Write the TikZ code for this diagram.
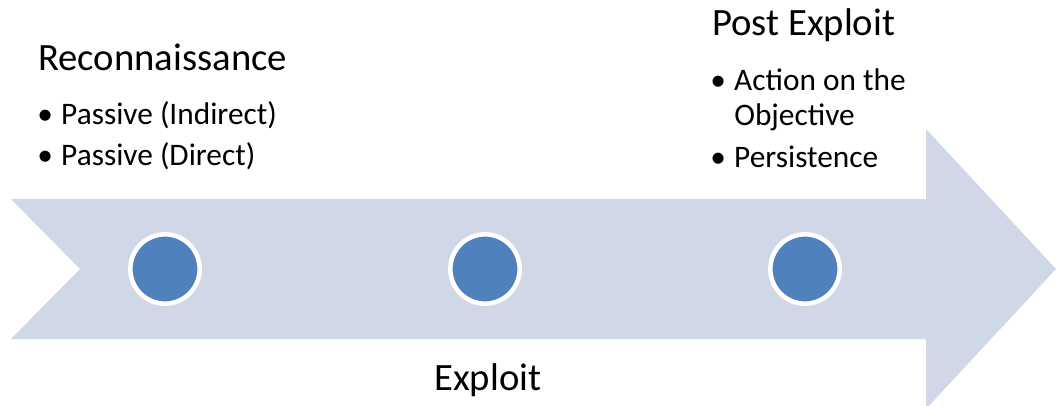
\documentclass[tikz,border=0pt]{standalone}
\usepackage{fontspec}
\setmainfont{Carlito}
\usetikzlibrary{positioning}

\definecolor{bandfill}{HTML}{D0D8E8}
\definecolor{dotfill}{HTML}{4F81BD}

% bullet with a fixed hanging indent
\newcommand{\bulitem}{\makebox[18pt][l]{\textbullet}}

\begin{document}
\begin{tikzpicture}[x=0.75pt,y=-0.75pt,
  band/.style={fill=bandfill},
  milestone/.style={circle,fill=dotfill,draw=white,line width=3.4pt,
    inner sep=0,minimum size=52pt},
  phase/.style={anchor=base west,inner sep=0,font=\fontsize{29}{34}\selectfont},
  item/.style={anchor=base west,inner sep=0,align=left,
    font=\fontsize{23.5}{26.25}\selectfont}]

  \useasboundingbox (0,0) rectangle (1056,406);
  \clip (0,0) rectangle (1056,406);

  % timeline arrow
  \fill[band] (11,199) -- (926,199) -- (926,129) -- (1056,269) -- (926,409)
    -- (926,339) -- (11,339) -- (80,269) -- cycle;

  % milestones
  \node[milestone] (recondot) at (165,269) {};
  \node[milestone] (exploitdot) at (485,269) {};
  \node[milestone] (postdot) at (805,269) {};

  % phases
  \node[phase] (recon) at (38,71) {Reconnaissance};
  \node[item] (passind) at (37,125) {\bulitem Passive (Indirect)};
  \node[item] (passdir) at (37,166) {\bulitem Passive (Direct)};

  \node[phase] (exploit) at (434,390) {Exploit};

  \node[phase] (post) at (712,36) {Post Exploit};
  % base of a two-line node sits on its last line
  \node[item] (action) at (710,126) {\bulitem Action on the\\\hspace*{18pt}Objective};
  \node[item] (persist) at (710,167) {\bulitem Persistence};
\end{tikzpicture}
\end{document}
